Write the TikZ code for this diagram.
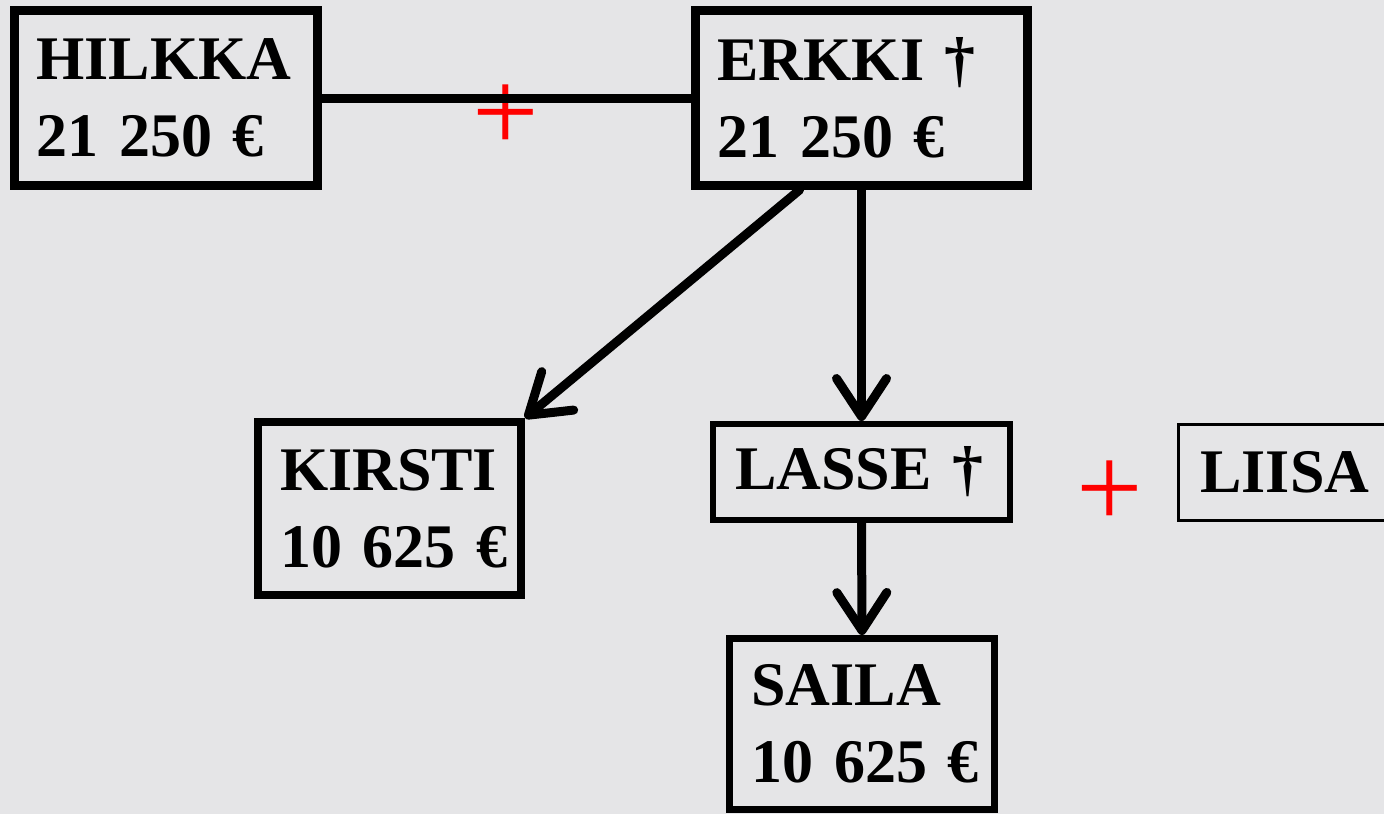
\documentclass[tikz,border=0pt]{standalone}
\usepackage{fontspec}
\setmainfont{Liberation Serif}[WordSpace = 0.7]
\usepackage{tikz}
\usetikzlibrary{arrows.meta}
\definecolor{marble}{RGB}{229,229,231}

\begin{document}
\begin{tikzpicture}[
        x = 0.5pt, y = -0.5pt,
        heir/.style = {draw, rectangle, line width = 4.5pt, inner xsep = 11pt, inner ysep = 0pt,
                       align = left, font = \bfseries\fontsize{31}{38.5}\selectfont},
        link/.style = {line width = 4.5pt, line cap = round,
                       -{Straight Barb[length = 19pt, width = 25pt, line cap = round, line join = round]}},
        plus/.style = {text = red, inner sep = 0pt, font = \fontsize{59}{60}\selectfont},
        ]
        % background
        \fill[marble] (0,0) rectangle (1384,814);
        \useasboundingbox (0,0) rectangle (1384,814);

        \node[heir, text width = 129.5pt, minimum height = 87.5pt] (hilkka) at (166,98) {HILKKA\\21~250~€};
        \node[heir, text width = 144pt, minimum height = 87.5pt] (erkki) at (861.5,98) {ERKKI~†\\21~250~€};
        \node[heir, line width = 4pt, text width = 109.5pt, minimum height = 86.5pt] (kirsti) at (389.5,508.5) {KIRSTI\\10~625~€};
        \node[heir, line width = 3pt, text width = 126.5pt, minimum height = 48pt] (lasse) at (861.5,472) {LASSE~†};
        \node[heir, line width = 1.5pt, text width = 86.5pt, minimum height = 48pt] (liisa) at (1287,472) {LIISA};
        \node[heir, line width = 3.5pt, text width = 110.5pt, minimum height = 85.5pt] (saila) at (862,724) {SAILA\\10~625~€};

        \node[plus] (wedding) at (506,118) {+};
        \node[plus] (couple) at (1110,494) {+};

        \draw[line width = 4.5pt] (hilkka.east) -- (erkki.west);
        \draw[link] ([xshift = -31pt]erkki.south) -- (kirsti.north east);
        \draw[link] (erkki.south) -- (lasse.north);
        \draw[link] (lasse.south) -- (saila.north);
\end{tikzpicture}
\end{document}
